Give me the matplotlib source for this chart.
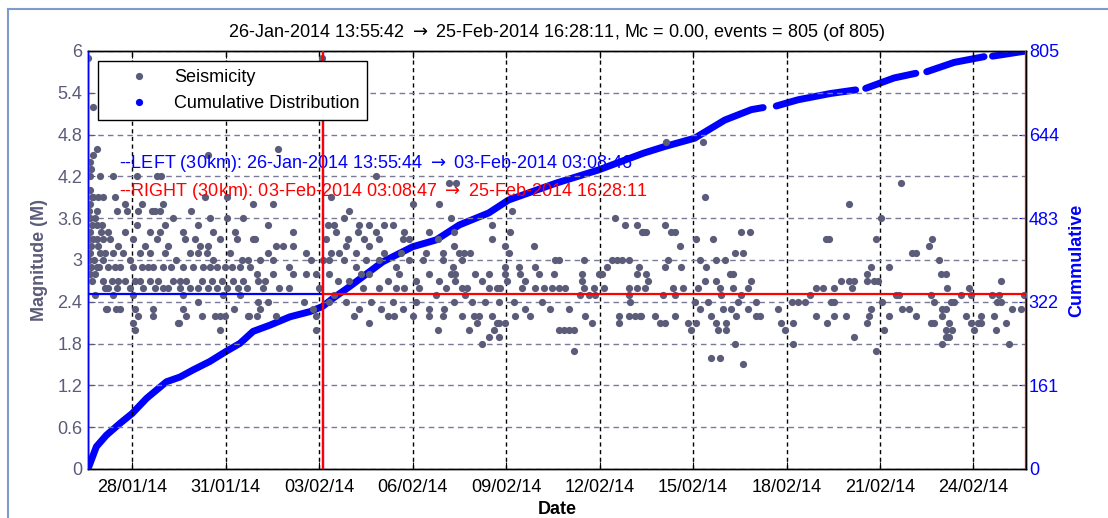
from datetime import datetime

import matplotlib.pyplot as plt
import numpy as np
from matplotlib.lines import Line2D

plt.rcParams['font.family'] = ['Liberation Sans', 'DejaVu Sans']

# catalogue window and the two sub-periods (30 km)
t_first = '26-Jan-2014 13:55:42'
t_last = '25-Feb-2014 16:28:11'
left_start, left_end = '26-Jan-2014 13:55:44', '03-Feb-2014 03:08:46'
right_start, right_end = '03-Feb-2014 03:08:47', '25-Feb-2014 16:28:11'
mc = 0.00
n_events = 805
left_mean_mag = 2.51
right_mean_mag = 2.51

tick_dates = ['28/01/14', '31/01/14', '03/02/14', '06/02/14', '09/02/14',
              '12/02/14', '15/02/14', '18/02/14', '21/02/14', '24/02/14']
mag_ticks = [0, 0.6, 1.2, 1.8, 2.4, 3, 3.6, 4.2, 4.8, 5.4, 6]
cum_ticks = [0, 161, 322, 483, 644, 805]

# events: (days since 26-Jan-2014 00:00, magnitude)
quakes_26jan_01feb = [
    (0.58, 5.9), (0.75, 5.2), (0.86, 4.6), (0.75, 4.5), (0.64, 4.4), (0.69, 4.3),
    (0.96, 4.2), (0.64, 4.2), (1.39, 4.2), (2.14, 4.2), (2.78, 4.2), (2.94, 4.2),
    (4.44, 4.5), (0.64, 4.0), (0.75, 3.9), (0.91, 3.9), (1.07, 3.9), (1.44, 3.9),
    (1.76, 3.8), (2.30, 3.8), (3.00, 3.8), (4.33, 3.9), (5.03, 3.9), (5.88, 3.8),
    (0.64, 3.8), (0.86, 3.7), (1.50, 3.7), (1.82, 3.7), (2.19, 3.7), (2.62, 3.7),
    (2.73, 3.7), (2.89, 3.7), (3.32, 3.6), (3.90, 3.7), (4.49, 3.6), (5.03, 3.6),
    (5.56, 3.6), (6.37, 3.5), (0.64, 3.6), (0.80, 3.6), (1.02, 3.5), (1.23, 3.4),
    (1.76, 3.4), (2.14, 3.5), (2.57, 3.4), (2.89, 3.4), (3.05, 3.5), (3.64, 3.4),
    (4.12, 3.5), (4.60, 3.4), (5.30, 3.4), (5.94, 3.3), (0.64, 3.4), (0.86, 3.3),
    (1.07, 3.3), (1.28, 3.3), (1.55, 3.2), (2.03, 3.3), (2.41, 3.2), (2.78, 3.3),
    (3.16, 3.2), (3.69, 3.3), (4.01, 3.3), (4.17, 3.2), (4.44, 3.2), (4.81, 3.3),
    (5.35, 3.3), (5.88, 3.3), (0.69, 3.2), (0.96, 3.1), (1.12, 3.1), (1.39, 3.1),
    (1.71, 3.1), (1.93, 3.0), (2.25, 3.1), (2.57, 3.1), (3.05, 3.1), (3.42, 3.0),
    (3.85, 3.1), (4.12, 3.1), (4.39, 3.1), (4.60, 3.0), (5.14, 3.1), (5.51, 3.0),
    (5.72, 3.0), (6.10, 3.0), (6.37, 3.1), (0.86, 2.9), (1.23, 2.9), (1.44, 2.9),
    (1.60, 2.9), (2.03, 2.9), (2.30, 2.9), (2.51, 2.9), (2.67, 2.9), (3.00, 2.9),
    (3.26, 2.9), (3.64, 2.9), (3.96, 2.9), (4.28, 2.9), (4.49, 2.9), (4.71, 2.9),
    (4.97, 2.9), (5.19, 2.9), (5.46, 2.9), (5.78, 2.9), (5.99, 2.8), (1.07, 2.7),
    (1.34, 2.7), (1.55, 2.7), (1.76, 2.7), (2.09, 2.7), (2.25, 2.7), (2.57, 2.7),
    (2.83, 2.7), (3.32, 2.7), (3.53, 2.7), (3.74, 2.7), (4.23, 2.7), (4.55, 2.7),
    (4.87, 2.7), (5.24, 2.7), (5.56, 2.7), (6.04, 2.7), (6.26, 2.7), (1.12, 2.6),
    (1.23, 2.6), (1.50, 2.6), (1.93, 2.6), (2.35, 2.6), (2.73, 2.6), (3.00, 2.6),
    (3.16, 2.6), (3.53, 2.6), (3.85, 2.6), (4.12, 2.6), (4.44, 2.6), (4.71, 2.6),
    (5.03, 2.6), (5.40, 2.6), (5.67, 2.6), (6.21, 2.6), (0.80, 2.5), (1.39, 2.5),
    (2.03, 2.5), (3.64, 2.5), (4.12, 2.4), (4.92, 2.5), (5.46, 2.5), (6.04, 2.4),
    (1.18, 2.3), (1.60, 2.3), (2.09, 2.3), (2.67, 2.3), (3.64, 2.3), (4.65, 2.2),
    (4.81, 2.2), (4.97, 2.2), (5.72, 2.2), (6.10, 2.3), (2.19, 2.2), (2.67, 2.2),
    (3.48, 2.1), (2.03, 2.1), (4.81, 2.0), (2.09, 2.0), (0.62, 3.0), (0.62, 3.3),
    (0.66, 2.8), (0.70, 3.5), (0.72, 2.7), (0.60, 3.7), (0.60, 4.0), (0.63, 3.1),
    (0.68, 2.9), (0.70, 3.9), (0.78, 3.0), (0.82, 2.8), (0.90, 3.2), (0.95, 2.9),
    (1.00, 3.4), (1.05, 3.0), (0.88, 3.5), (0.74, 3.3), (1.16, 2.3), (1.47, 2.3),
    (3.50, 2.1), (3.72, 2.2), (4.25, 2.2), (5.27, 2.3), (5.75, 2.2), (6.00, 2.2),
]

quakes_02feb_07feb = [
    (6.37, 2.4), (6.60, 2.2), (7.50, 2.4), (7.90, 2.0), (7.80, 2.3),
    (8.09, 5.9), (6.67, 4.6), (9.82, 4.2), (6.51, 3.8), (8.38, 3.9), (8.97, 3.7),
    (11.00, 3.8), (11.86, 3.8), (12.18, 4.1), (12.39, 4.1),
    (8.27, 3.5), (8.49, 3.5), (8.81, 3.6), (9.29, 3.5), (9.61, 3.5), (9.82, 3.4),
    (10.09, 3.5), (10.36, 3.5), (10.73, 3.4), (11.54, 3.4), (12.23, 3.6),
    (7.15, 3.4), (8.22, 3.3), (8.54, 3.4), (8.92, 3.3), (9.24, 3.4), (9.45, 3.3),
    (9.93, 3.3), (10.68, 3.3), (10.89, 3.3), (11.80, 3.3), (12.34, 3.4),
    (6.61, 3.2), (6.83, 3.2), (7.15, 3.2), (7.58, 3.1), (8.38, 3.1), (8.65, 3.1),
    (8.86, 3.2), (9.18, 3.1), (9.61, 3.2), (10.09, 3.1), (10.63, 3.1), (11.43, 3.1),
    (11.96, 3.1), (12.34, 3.2), (6.51, 3.0), (7.04, 2.9), (7.74, 3.0), (8.11, 3.0),
    (8.33, 3.0), (8.81, 3.0), (9.18, 2.9), (9.50, 3.0), (9.93, 3.0), (10.47, 2.9),
    (10.89, 3.0), (11.32, 3.0), (11.96, 3.0), (12.29, 2.9), (6.51, 2.8), (7.15, 2.8),
    (7.58, 2.8), (7.90, 2.8), (8.33, 2.8), (8.59, 2.7), (8.97, 2.7), (9.34, 2.8),
    (9.61, 2.8), (10.20, 2.7), (10.57, 2.8), (11.11, 2.7), (11.54, 2.8), (11.86, 2.7),
    (12.23, 2.8), (6.72, 2.6), (7.04, 2.6), (8.00, 2.6), (8.49, 2.5), (9.40, 2.6),
    (9.93, 2.6), (10.47, 2.6), (10.73, 2.6), (11.22, 2.6), (11.75, 2.5), (12.07, 2.6),
    (8.33, 2.4), (8.86, 2.4), (9.29, 2.3), (9.66, 2.4), (9.98, 2.3), (10.36, 2.4),
    (10.68, 2.3), (11.11, 2.4), (11.54, 2.3), (12.02, 2.3), (12.34, 2.4),
    (7.90, 2.2), (9.13, 2.2), (9.61, 2.1), (10.20, 2.2), (10.41, 2.2), (11.00, 2.2),
    (11.96, 2.2), (11.54, 2.2), (11.80, 2.0),
]

quakes_07feb_13feb = [
    (14.19, 3.7), (13.55, 3.5), (14.14, 3.4), (13.55, 3.3), (13.97, 3.2), (14.88, 3.2),
    (14.08, 3.1), (17.51, 3.6), (17.83, 3.5), (18.20, 3.5), (18.36, 3.4),
    (12.48, 3.1), (12.64, 3.1), (12.85, 3.1), (12.58, 3.0), (15.58, 3.0), (15.69, 3.0),
    (16.49, 3.0), (17.40, 3.0), (17.56, 3.0), (17.72, 3.0), (17.93, 3.0),
    (13.97, 2.9), (14.40, 2.9), (14.94, 2.9), (17.24, 2.9), (18.26, 2.9),
    (12.37, 2.8), (13.01, 2.8), (13.44, 2.8), (13.97, 2.8), (14.46, 2.8), (14.62, 2.7),
    (15.04, 2.8), (15.53, 2.8), (16.44, 2.8), (16.97, 2.8), (17.08, 2.8), (18.20, 2.8),
    (12.37, 2.7), (12.58, 2.6), (12.74, 2.6), (13.23, 2.7), (13.44, 2.6), (13.71, 2.6),
    (13.81, 2.6), (14.03, 2.7), (14.51, 2.6), (14.94, 2.6), (15.21, 2.6), (15.47, 2.6),
    (15.69, 2.6), (15.90, 2.6), (16.44, 2.7), (16.49, 2.6), (16.81, 2.6), (17.13, 2.6),
    (17.93, 2.6), (18.20, 2.6), (12.69, 2.5), (12.91, 2.4), (13.33, 2.4), (13.76, 2.4),
    (14.24, 2.4), (14.62, 2.3), (15.15, 2.4), (15.42, 2.3), (16.01, 2.3), (16.38, 2.5),
    (16.65, 2.5), (16.86, 2.5), (17.93, 2.5), (17.99, 2.4), (12.58, 2.2), (12.96, 2.2),
    (13.12, 2.2), (13.55, 2.2), (13.97, 2.1), (14.30, 2.2), (14.78, 2.2), (16.54, 2.2),
    (17.61, 2.2), (17.93, 2.2), (18.15, 2.2), (18.31, 2.2), (13.07, 2.1), (13.71, 2.1),
    (13.76, 2.1), (16.76, 2.1), (17.61, 2.1), (12.80, 2.0), (13.60, 2.0), (15.69, 2.0),
    (15.85, 2.0), (16.01, 2.0), (16.17, 2.0), (13.44, 1.9), (13.76, 1.9), (13.23, 1.8),
    (16.17, 1.7),
]

quakes_13feb_19feb = [
    (19.14, 4.7), (20.32, 4.7), (20.37, 3.9), (19.09, 3.5), (18.39, 3.4), (18.50, 3.4),
    (19.30, 3.4), (19.41, 3.4), (21.55, 3.4), (21.82, 3.4), (19.57, 3.2), (20.11, 3.3),
    (20.64, 3.3), (24.28, 3.3), (21.34, 3.1), (21.60, 3.1), (19.20, 3.0), (20.21, 3.0),
    (20.75, 3.0), (21.02, 3.0), (19.09, 2.9), (19.62, 2.9), (20.43, 2.9), (18.50, 2.8),
    (18.55, 2.7), (18.45, 2.6), (21.18, 2.8), (21.28, 2.8), (20.37, 2.7), (20.75, 2.7),
    (21.87, 2.7), (19.36, 2.6), (19.68, 2.6), (20.16, 2.6), (20.86, 2.6), (21.28, 2.6),
    (21.76, 2.6), (23.96, 2.6), (24.17, 2.6), (19.04, 2.5), (19.41, 2.5), (20.91, 2.5),
    (21.55, 2.5), (23.74, 2.5), (20.05, 2.4), (20.21, 2.3), (20.48, 2.4), (20.96, 2.3),
    (21.23, 2.3), (21.44, 2.4), (21.76, 2.3), (22.03, 2.4), (22.73, 2.3), (23.16, 2.4),
    (23.37, 2.4), (23.58, 2.4), (18.34, 2.2), (18.77, 2.2), (19.41, 2.2), (20.59, 2.2),
    (21.39, 2.2), (22.03, 2.2), (22.14, 2.2), (23.96, 2.2), (18.93, 2.1), (19.09, 2.1),
    (19.84, 2.1), (20.11, 2.1), (20.75, 2.1), (21.07, 2.1), (22.83, 2.1), (23.21, 2.1),
    (19.95, 2.0), (20.80, 2.0), (21.07, 2.0), (22.94, 2.0), (21.34, 1.8), (23.21, 1.8),
    (20.59, 1.6), (20.86, 1.6), (21.60, 1.5),
]

quakes_19feb_25feb = [
    (26.69, 4.1), (25.01, 3.8), (26.02, 3.6), (24.36, 3.3), (25.86, 3.3), (27.68, 3.3),
    (27.57, 3.2), (27.04, 3.1), (27.15, 3.1), (27.90, 3.0), (25.70, 2.9), (26.29, 2.9),
    (27.95, 2.8), (28.11, 2.8), (25.59, 2.8), (24.74, 2.7), (25.01, 2.7), (25.17, 2.7),
    (25.59, 2.7), (25.81, 2.7), (25.92, 2.7), (29.88, 2.7), (24.52, 2.6), (25.11, 2.6),
    (28.16, 2.6), (28.86, 2.6), (26.50, 2.5), (26.61, 2.5), (27.63, 2.5), (28.59, 2.5),
    (28.91, 2.5), (29.61, 2.5), (29.82, 2.5), (30.62, 2.5), (24.42, 2.4), (24.52, 2.4),
    (25.70, 2.3), (26.08, 2.4), (26.72, 2.3), (26.93, 2.3), (27.73, 2.4), (28.00, 2.3),
    (28.11, 2.3), (28.27, 2.4), (28.38, 2.4), (29.77, 2.4), (29.88, 2.4), (30.25, 2.3),
    (30.52, 2.3), (24.52, 2.2), (24.90, 2.2), (25.65, 2.2), (26.29, 2.2), (27.15, 2.2),
    (28.00, 2.2), (28.75, 2.2), (29.23, 2.2), (29.66, 2.2), (24.31, 2.1), (25.59, 2.1),
    (27.63, 2.1), (27.73, 2.1), (28.22, 2.1), (28.91, 2.1), (29.13, 2.1), (29.23, 2.1),
    (30.04, 2.1), (26.13, 2.0), (28.11, 2.0), (28.32, 2.0), (29.02, 2.0), (29.71, 2.0),
    (25.17, 1.9), (28.11, 1.9), (28.22, 1.9), (28.00, 1.8), (30.14, 1.8), (25.86, 1.7),
]

# cumulative number of events (nan = no events for a while)
cum_day = [0.58, 0.85, 1.17, 1.61, 2.00, 2.46, 3.10, 3.53, 3.96, 4.49, 5.00, 5.46,
           5.88, 6.42, 7.06, 7.70, 8.11, 8.45, 8.97, 10.04, 11.00, 11.75, 12.50,
           13.44, 14.08, 15.58, 16.97, 18.40, 19.09, 20.05, 21.02, 21.87, 22.25,
           np.nan, 22.67, 23.37, 24.40, 25.22, np.nan, 25.54, 26.45, 27.15,
           np.nan, 27.50, 28.38, 29.34, np.nan, 29.61, 30.69]
cum_count = [0, 43, 65, 88, 107, 136, 168, 177, 191, 207, 226, 242,
             265, 277, 293, 303, 313, 329, 351, 399, 428, 441, 470,
             493, 518, 550, 576, 608, 621, 637, 672, 692, 696,
             np.nan, 699, 711, 723, 730, np.nan, 733, 753, 762,
             np.nan, 765, 783, 794, np.nan, 795, 805]


base = datetime(2014, 1, 26)


def day(s, fmt='%d-%b-%Y %H:%M:%S'):
    return (datetime.strptime(s, fmt) - base).total_seconds() / 86400


events = np.array(quakes_26jan_01feb + quakes_02feb_07feb + quakes_07feb_13feb
                  + quakes_13feb_19feb + quakes_19feb_25feb)

mag_color = '#5b5b7a'
fs = 13
arrow = r' $\rightarrow$ '

fig = plt.figure(figsize=(11.08, 5.18), dpi=100)
ax = fig.add_axes([0.0794, 0.0946, 0.8466, 0.807])
ax2 = ax.twinx()
ax.set_zorder(ax2.get_zorder() + 1)
ax.patch.set_visible(False)

# window frame of the screenshot
fig.add_artist(Line2D([8 / 1108, 1], [1 - 9 / 518, 1 - 9 / 518], color='#7d9ccc', lw=1.5))
fig.add_artist(Line2D([8 / 1108, 8 / 1108], [0, 1 - 9 / 518], color='#7d9ccc', lw=1.5))

x0, x1 = day(t_first), day(t_last)
ax.set_xlim(x0, x1)
ax.set_ylim(0, 6)
ax2.set_ylim(0, n_events)

ax.plot(events[:, 0], events[:, 1], 'o', color=mag_color, ms=5.2, mec='none',
        zorder=3)
ax2.plot(cum_day, cum_count, '-', color='#0000ff', lw=5, solid_capstyle='round')

ls, le = day(left_start), day(left_end)
rs, re = day(right_start), day(right_end)
ax.axvline(ls, color='#0000ff', lw=1.6, zorder=4)
ax.axvline(le, color='#0000ff', lw=1.6, zorder=4)
ax.plot([ls, le], [left_mean_mag, left_mean_mag], color='#0000ff', lw=1.6, zorder=4)
ax.axvline(rs, color='#ff0000', lw=1.6, zorder=4)
ax.axvline(re, color='#ff0000', lw=1.6, zorder=4)
ax.plot([rs, re], [right_mean_mag, right_mean_mag], color='#ff0000', lw=1.6, zorder=4)

# ticks and grids
tick_pos = [day(s, '%d/%m/%y') for s in tick_dates]
ax.set_xticks(tick_pos)
ax.set_xticklabels(tick_dates)
ax.set_yticks(mag_ticks)
ax.set_yticklabels(['%g' % v for v in mag_ticks])
ax2.set_yticks(cum_ticks)
ax2.set_yticklabels([str(v) for v in cum_ticks])

ax.yaxis.grid(True, color='#7a7a96', ls=(0, (4, 3)), lw=1)
ax.xaxis.grid(True, color='black', ls=(0, (3, 2.5)), lw=1)
ax.tick_params(axis='x', direction='in', length=5, top=True, labelsize=fs,
               colors='black', pad=7)
ax.tick_params(axis='y', direction='in', length=5, labelsize=fs,
               colors=mag_color, labelcolor=mag_color, pad=4)
ax2.tick_params(axis='y', direction='in', length=5, labelsize=fs,
                colors='#0000ff', labelcolor='#0000ff', pad=2)
for a in (ax, ax2):
    for sp in a.spines.values():
        sp.set_color('black')
        sp.set_linewidth(1)

ax.set_xlabel('Date', fontsize=fs, fontweight='bold', labelpad=4)
ax.set_ylabel('Magnitude (M)', fontsize=fs, fontweight='bold', color=mag_color,
              labelpad=7)
ax2.set_ylabel('Cummulative', fontsize=fs, fontweight='bold', color='#0000ff',
               labelpad=7)

ax.set_title('%s%s%s, Mc = %.2f, events = %d (of %d)'
             % (t_first, arrow, t_last, mc, n_events, n_events), fontsize=fs, pad=10)

ax.text(0.033, 0.731, '--LEFT (30km): %s%s%s' % (left_start, arrow, left_end),
        transform=ax.transAxes, color='#0000ff', fontsize=fs, va='center')
ax.text(0.033, 0.663, '--RIGHT (30km): %s%s%s' % (right_start, arrow, right_end),
        transform=ax.transAxes, color='#ff0000', fontsize=fs, va='center')

handles = [Line2D([], [], ls='none', marker='o', ms=5.2, color=mag_color, mec='none'),
           Line2D([], [], ls='none', marker='o', ms=5.2, color='#0000ff', mec='none')]
leg = ax.legend(handles, ['Seismicity', 'Cumulative Distribution'],
                loc='upper left', bbox_to_anchor=(0.0107, 0.976), fontsize=fs,
                frameon=True, fancybox=False, edgecolor='black', framealpha=1,
                borderpad=0.45, labelspacing=0.5, handlelength=3.6,
                handletextpad=0.15, borderaxespad=0)
leg.get_frame().set_linewidth(1)
leg.set_zorder(10)

fig.savefig('out.png', dpi=100)
